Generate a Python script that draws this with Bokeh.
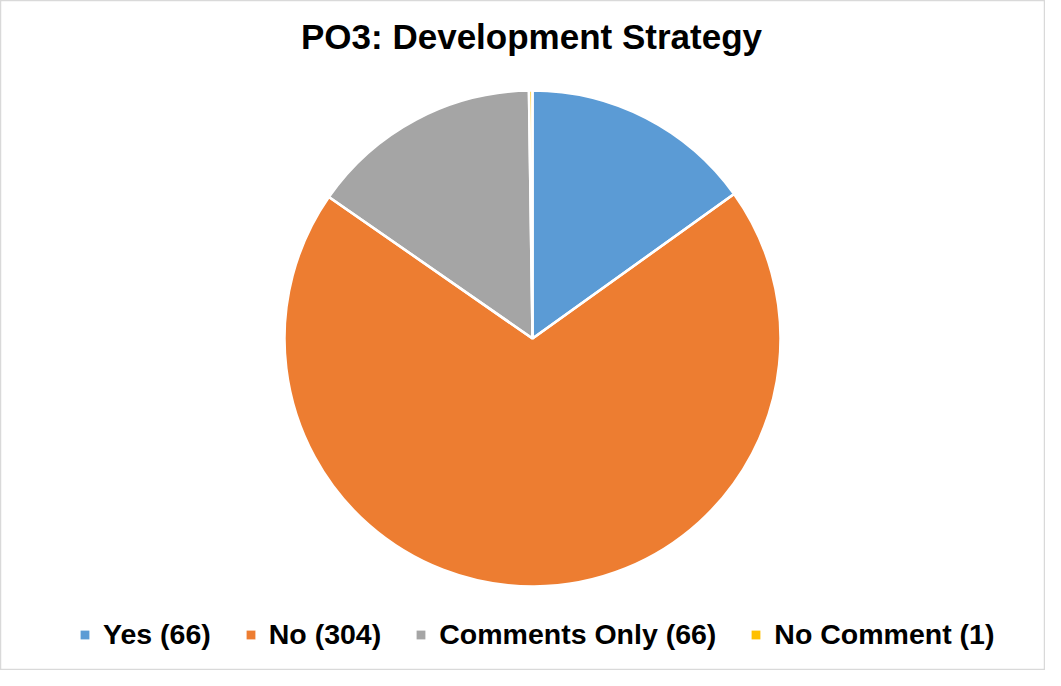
import numpy as np
from bokeh.plotting import figure
from bokeh.models import ColumnDataSource, Legend, LegendItem, Range1d
from bokeh.core.properties import value
from bokeh.embed import file_html
from bokeh.resources import INLINE

title_text = "PO3: Development Strategy"
categories = ["Yes", "No", "Comments Only", "No Comment"]
counts = [66, 304, 66, 1]
colors = ["#5B9BD5", "#ED7D31", "#A5A5A5", "#FFC000"]

W, H = 1045, 670
p = figure(width=W, height=H, output_backend="svg", toolbar_location=None,
           x_range=Range1d(0, W), y_range=Range1d(0, H),
           x_axis_type=None, y_axis_type=None, min_border=0,
           background_fill_color="white", border_fill_color="white")
p.grid.visible = False
p.outline_line_color = "#d9d9d9"
p.outline_line_width = 1.5

vals = np.array(counts, dtype=float)
frac = vals / vals.sum()
cum = np.concatenate([[0], np.cumsum(frac)])
start = np.pi / 2 - 2 * np.pi * cum[:-1]
end = np.pi / 2 - 2 * np.pi * cum[1:]
labels = [f"{c} ({n})" for c, n in zip(categories, counts)]
src = ColumnDataSource(dict(start=start, end=end, color=colors, label=labels))

cx, cy, R = 532, 332, 248
# filled slices (no outline) -> also used for the legend swatches
r = p.wedge(x=cx, y=cy, radius=R, radius_units="screen", start_angle="start", end_angle="end",
            direction="clock", fill_color="color", line_alpha=0, source=src)
# white separators on top
p.wedge(x=cx, y=cy, radius=R, radius_units="screen", start_angle="start", end_angle="end",
        direction="clock", fill_alpha=0, line_color="white", line_width=2.5, source=src)

p.text(x=[531], y=[634], text=[title_text], text_align="center", text_baseline="alphabetic",
       text_font=value("Liberation Sans"), text_font_style="bold", text_font_size="35px",
       text_color="#000000")

items = [LegendItem(label=labels[i], renderers=[r], index=i) for i in range(len(labels))]
legend = Legend(items=items, orientation="horizontal", location=(79, 19),
                glyph_width=11, glyph_height=11, label_standoff=13, spacing=34,
                padding=0, margin=0, border_line_alpha=0, background_fill_alpha=0,
                label_text_font="Liberation Sans", label_text_font_style="bold",
                label_text_font_size="28.5px", label_text_color="#000000")
p.add_layout(legend, "center")

open("out.html", "w").write(file_html(p, INLINE))
